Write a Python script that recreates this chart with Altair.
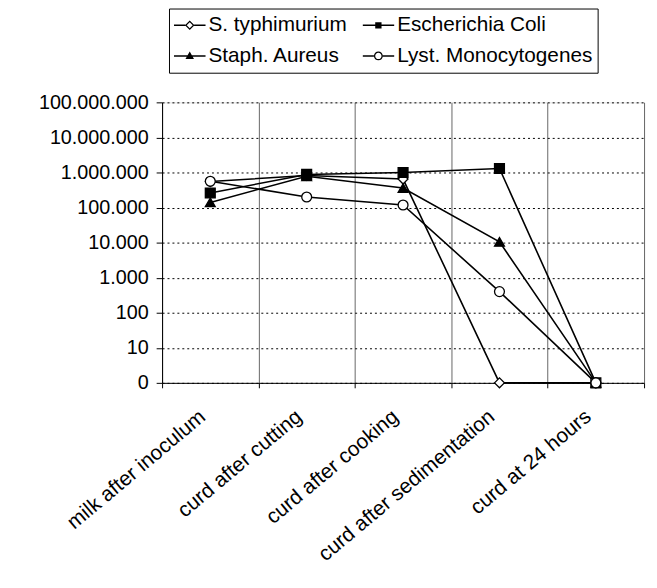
import altair as alt
import pandas as pd

categories = ["milk after inoculum", "curd after cutting", "curd after cooking",
              "curd after sedimentation", "curd at 24 hours"]
series = ["S. typhimurium", "Escherichia Coli", "Staph. Aureus", "Lyst. Monocytogenes"]
s_typhimurium = [550000, 820000, 650000, 1, 1]
e_coli = [260000, 880000, 1000000, 1300000, 1]
staph_aureus = [140000, 780000, 360000, 10500, 1]
lyst_mono = [560000, 200000, 118000, 400, 1]
tick_values = [1, 10, 100, 1000, 10000, 100000, 1000000, 10000000, 100000000]
tick_labels = ["0", "10", "100", "1.000", "10.000", "100.000", "1.000.000",
               "10.000.000", "100.000.000"]

plot_shapes = ["diamond", "square", "triangle-up", "circle"]
fills = ["white", "black", "black", "white"]

# legend glyphs "—marker—" drawn as filled outlines (line = thin bar, open marker = ring)
LEFT = "M-1,-0.045H-0.28V0.045H-1Z"
RIGHT = "M0.28,-0.045H1V0.045H0.28Z"
FULL = "M-1,-0.045H1V0.045H-1Z"
legend_shapes = [
    LEFT + RIGHT + "M-0.3,0L0,-0.3L0.3,0L0,0.3Z" + "M-0.19,0L0,0.19L0.19,0L0,-0.19Z",
    FULL + "M-0.2,-0.2H0.2V0.2H-0.2Z",
    FULL + "M0,-0.28L0.27,0.2H-0.27Z",
    LEFT + RIGHT + "M-0.28,0A0.28,0.28,0,1,1,0.28,0A0.28,0.28,0,1,1,-0.28,0Z"
    + "M-0.2,0A0.2,0.2,0,1,0,0.2,0A0.2,0.2,0,1,0,-0.2,0Z",
]

rows = []
for name, vals in zip(series, [s_typhimurium, e_coli, staph_aureus, lyst_mono]):
    for i, (c, v) in enumerate(zip(categories, vals)):
        rows.append({"stage": c, "idx": i, "value": v, "series": name})
df = pd.DataFrame(rows)

# legend entries are laid out column by column
legend_order = [series[0], series[2], series[1], series[3]]
legend_shape_range = [legend_shapes[series.index(s)] for s in legend_order]

FONT = "Liberation Sans"
label_array = "[" + ",".join("'%s'" % t for t in tick_labels) + "]"

x_enc = alt.X(
    "stage:N", sort=categories, bandPosition=0.5,
    scale=alt.Scale(type="band", domain=categories, paddingInner=0, paddingOuter=0),
    axis=alt.Axis(title=None, labelAngle=-40, labelFont=FONT, labelFontSize=21,
                  labelColor="black", labelLimit=0, tickBand="extent", grid=True,
                  gridColor="#666", gridWidth=1, ticks=True, tickSize=5,
                  tickColor="black", domainColor="black", labelPadding=18,
                  labelOffset=-15),
)
y_enc = alt.Y(
    "value:Q",
    scale=alt.Scale(type="log", domain=[1, 100000000], nice=False),
    axis=alt.Axis(title=None, values=tick_values,
                  labelExpr=label_array + "[round(log(datum.value)/LN10)]",
                  labelFont=FONT, labelFontSize=20, labelColor="black",
                  grid=True, gridColor="black", gridDash=[2, 3], gridWidth=1,
                  tickSize=6, tickColor="black", domainColor="black", labelPadding=8),
)

base = alt.Chart(df)

lines = base.mark_line(color="black", strokeWidth=1.6).encode(
    x=x_enc, y=y_enc, detail="series:N",
    order=alt.Order("idx:Q"),
)

points = base.mark_point(filled=True, stroke="black", strokeWidth=1.3, size=100, opacity=1).encode(
    x=x_enc, y=y_enc,
    shape=alt.Shape("series:N", scale=alt.Scale(domain=series, range=plot_shapes), legend=None),
    fill=alt.Fill("series:N", scale=alt.Scale(domain=series, range=fills), legend=None),
)

legend_layer = base.transform_filter("false").mark_point(
    filled=True, color="black", opacity=1).encode(
    x=x_enc, y=y_enc,
    shape=alt.Shape("series:N", scale=alt.Scale(domain=legend_order, range=legend_shape_range),
                    legend=alt.Legend(title=None, orient="none", legendX=7, legendY=-95,
                                      columns=2, columnPadding=15, rowPadding=7,
                                      padding=5, strokeColor="black", fillColor="white",
                                      symbolSize=1024, clipHeight=24,
                                      symbolFillColor="black", symbolStrokeWidth=0,
                                      symbolOpacity=1,
                                      labelFont=FONT, labelFontSize=21, labelColor="black",
                                      labelOffset=3, labelLimit=0)),
)

chart = alt.layer(lines, points, legend_layer).resolve_scale(
    shape="independent"
).properties(
    width=488, height=284,
    autosize=alt.AutoSizeParams(type="none"),
    padding={"left": 156, "top": 92, "right": 5, "bottom": 190},
).configure_view(stroke="black", strokeWidth=1).configure(background="white")

chart.save("out.html", embed_options={"renderer": "svg", "actions": False})
